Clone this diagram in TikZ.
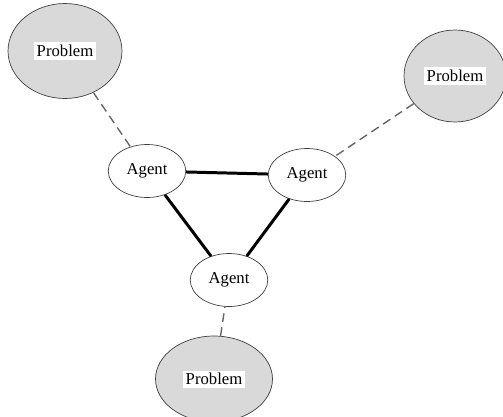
\documentclass[tikz,border=0pt]{standalone}
\usepackage{fontspec}
\setmainfont{Liberation Serif}
\usetikzlibrary{shapes.geometric, positioning}

\tikzset{
    problem/.style={ellipse, draw=black!75, fill=gray!30, thin, inner sep=0pt},
    agentnode/.style={ellipse, draw=black!75, fill=white, thin, inner sep=0pt, minimum width=1.55cm, minimum height=1.06cm, font=\fontsize{9.5}{11}\selectfont},
    tag/.style={fill=white, inner sep=1.5pt, font=\fontsize{9.5}{11}\selectfont},
    link/.style={line width=1.7pt},
    reach/.style={draw=black!60, line width=0.8pt, dash pattern=on 5pt off 3pt}
}

\begin{document}
\begin{tikzpicture}[scale=1.0,x=0.02cm,y=-0.02cm,>=stealth]
    \useasboundingbox (0,0) rectangle (503,416);
    \begin{scope}
    \clip (0,0) rectangle (503,416);

    % problems
    \node[problem, minimum width=2.28cm, minimum height=1.9cm] (prob1) at (65,51) {};
    \node[problem, minimum width=2.04cm, minimum height=1.84cm] (prob2) at (455,76) {};
    \node[problem, minimum width=2.34cm, minimum height=1.72cm] (prob3) at (214,379) {};
    \node[tag] (tag1) at (prob1.center) {Problem};
    \node[tag] (tag2) at (prob2.center) {Problem};
    \node[tag] (tag3) at (prob3.center) {Problem};

    % agents
    \node[agentnode] (agent1) at (147,171) {Agent};
    \node[agentnode] (agent2) at (307,175) {Agent};
    \node[agentnode] (agent3) at (229,280) {Agent};

    % links between agents
    \draw[link] (agent1) -- (agent2);
    \draw[link] (agent1) -- (agent3);
    \draw[link] (agent2) -- (agent3);

    % agent to problem
    \draw[reach] (prob1) -- (agent1);
    \draw[reach] (prob2) -- (agent2);
    \draw[reach] (prob3) -- (agent3);
    \end{scope}
\end{tikzpicture}
\end{document}
